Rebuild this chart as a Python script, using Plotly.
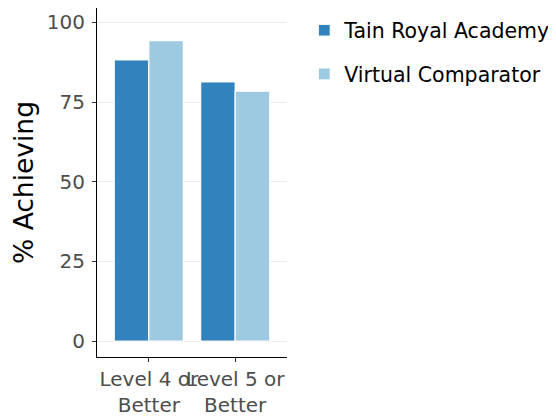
import plotly.graph_objects as go

categories = ["Level 4 or<br>Better", "Level 5 or<br>Better"]
series_names = ["Tain Royal Academy", "Virtual Comparator"]
tain_values = [88.2, 81.3]
comparator_values = [94.3, 78.4]
colors = ["#3182BD", "#9ECAE1"]
y_ticks = [0, 25, 50, 75, 100]

FONT = "DejaVu Sans"

fig = go.Figure()
for name, vals, col in zip(series_names, [tain_values, comparator_values], colors):
    fig.add_trace(go.Bar(
        x=categories, y=vals, name=name, legendgroup=name,
        marker=dict(color=col, line=dict(color="rgba(255,255,255,0.9)", width=1.3)),
        hoverinfo="x+y+name",
    ))

fig.update_layout(
    width=548, height=410,
    margin=dict(l=89, r=269, t=0, b=61, autoexpand=False),
    paper_bgcolor="white", plot_bgcolor="white",
    barmode="group", bargap=0.2, bargroupgap=0,
    font=dict(family=FONT, size=20, color="#4D4D4D"),
    legend=dict(
        x=1.091, xanchor="left", y=0.993, yanchor="top",
        font=dict(family=FONT, size=20.5, color="black"),
        tracegroupgap=14, bgcolor="rgba(0,0,0,0)",
    ),
    xaxis=dict(
        range=[-0.6, 1.6], showgrid=False, zeroline=False, automargin=False,
        showline=True, linecolor="black", linewidth=1.2, tickangle=0,
        ticks="outside", ticklen=4, tickcolor="#333333", tickwidth=1.2,
        tickfont=dict(family=FONT, size=20, color="#4D4D4D"),
        ticklabelstandoff=0,
    ),
    yaxis=dict(
        range=[-5, 104.5], tickvals=y_ticks, ticktext=[str(v) for v in y_ticks],
        showgrid=True, gridcolor="#EBEBEB", gridwidth=1.2, zeroline=False, automargin=False,
        showline=True, linecolor="black", linewidth=1.2,
        ticks="outside", ticklen=4, tickcolor="#333333", tickwidth=1.2,
        tickfont=dict(family=FONT, size=20, color="#4D4D4D"),
        ticklabelstandoff=3,
        title=dict(text="% Achieving", font=dict(family=FONT, size=26.5, color="black")),
    ),
)

fig.write_html("out.html")
